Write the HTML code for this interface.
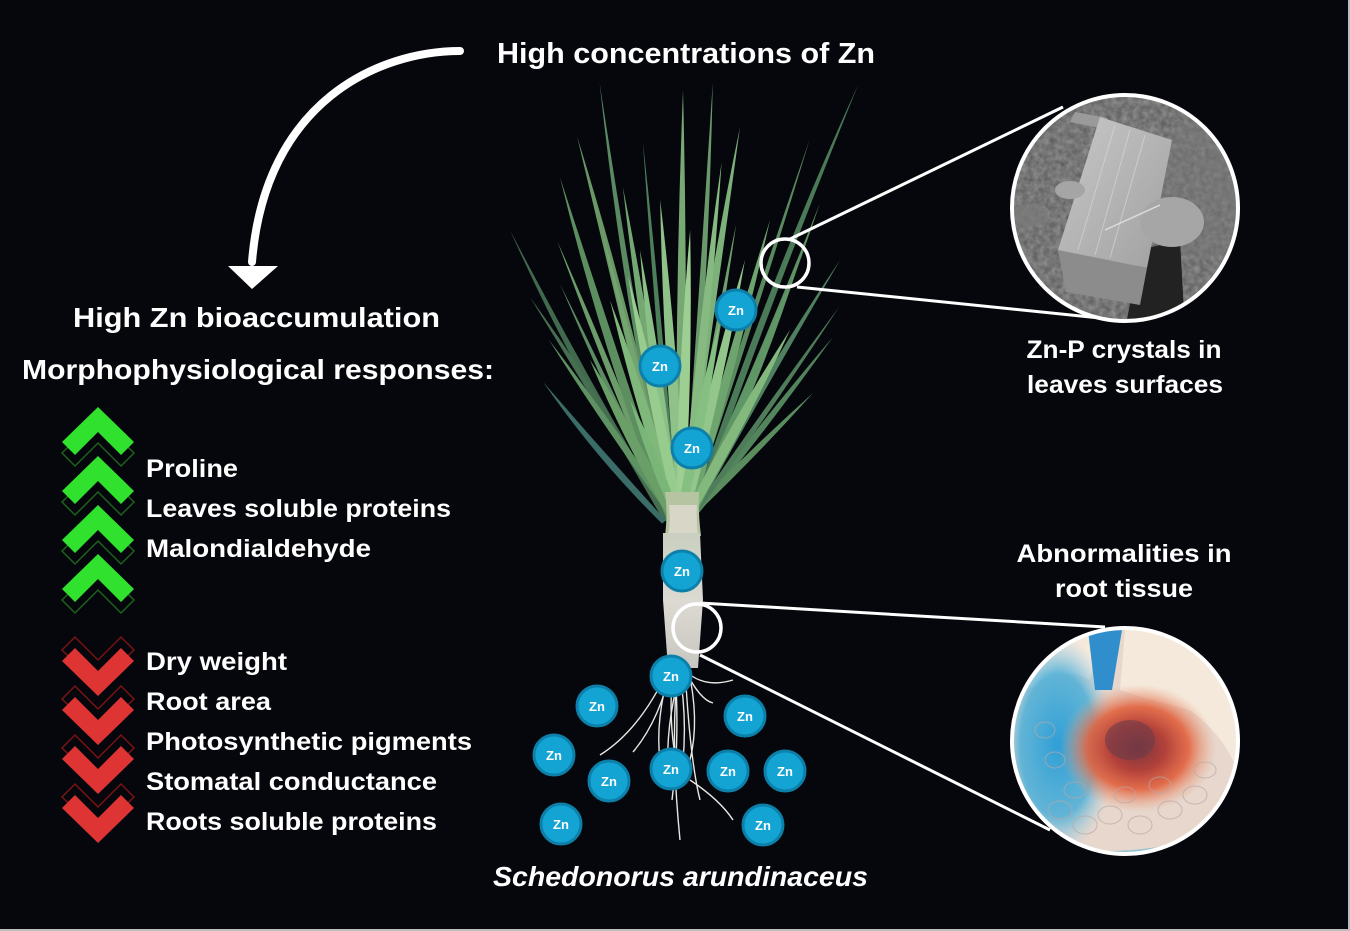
<!DOCTYPE html>
<html><head><meta charset="utf-8">
<style>
html,body{margin:0;padding:0;background:#06070c;}
svg{display:block;}
.t{font-family:"Liberation Sans",Arial,sans-serif;font-weight:bold;fill:#fff;}
.zn{font-family:"Liberation Sans",Arial,sans-serif;font-weight:bold;fill:#fff;font-size:13px;text-anchor:middle;}
</style></head>
<body>
<svg width="1350" height="931" viewBox="0 0 1350 931" xmlns="http://www.w3.org/2000/svg">
<defs>
  <clipPath id="c1"><circle cx="1125" cy="208" r="113"/></clipPath>
  <clipPath id="c2"><circle cx="1125" cy="741" r="113"/></clipPath>
  <filter id="noise" x="0" y="0" width="100%" height="100%">
    <feTurbulence type="fractalNoise" baseFrequency="0.18" numOctaves="2" seed="3"/>
    <feColorMatrix type="matrix" values="0 0 0 0 0.7  0 0 0 0 0.7  0 0 0 0 0.7  0 0 0 0.5 0"/>
  </filter>
  <radialGradient id="blue" cx="0.5" cy="0.5" r="0.5">
    <stop offset="0" stop-color="#2f9fd6" stop-opacity="1"/>
    <stop offset="0.65" stop-color="#4aaed8" stop-opacity="0.85"/>
    <stop offset="1" stop-color="#9fd0e6" stop-opacity="0"/>
  </radialGradient>
  <radialGradient id="red" cx="0.5" cy="0.5" r="0.5">
    <stop offset="0" stop-color="#7a3640"/>
    <stop offset="0.35" stop-color="#b2413a"/>
    <stop offset="0.65" stop-color="#e2623e" stop-opacity="0.9"/>
    <stop offset="1" stop-color="#e9a080" stop-opacity="0"/>
  </radialGradient>
  <linearGradient id="stem" x1="0" y1="0" x2="0" y2="1">
    <stop offset="0" stop-color="#c9cfc0"/>
    <stop offset="0.5" stop-color="#dcdad2"/>
    <stop offset="1" stop-color="#c8c6c0"/>
  </linearGradient>
  <linearGradient id="cry" x1="0" y1="0" x2="1" y2="1">
    <stop offset="0" stop-color="#c8c8c8"/>
    <stop offset="1" stop-color="#a0a0a0"/>
  </linearGradient>
</defs>

<rect width="1350" height="931" fill="#06070c"/>
<rect x="1348" y="0" width="2" height="931" fill="#bdbdbd"/>
<rect x="0" y="929" width="1350" height="2" fill="#bdbdbd"/>

<!-- Curved arrow -->
<path d="M460,51 C380,51 265,100 252,262" fill="none" stroke="#fff" stroke-width="8" stroke-linecap="round"/>
<polygon points="228,266 278,266 252,289" fill="#fff"/>

<!-- Titles -->
<text class="t" x="497" y="63" font-size="29" textLength="378" lengthAdjust="spacingAndGlyphs">High concentrations of Zn</text>
<text class="t" x="73" y="327" font-size="28" textLength="367" lengthAdjust="spacingAndGlyphs">High Zn bioaccumulation</text>
<text class="t" x="22" y="379" font-size="28" textLength="472" lengthAdjust="spacingAndGlyphs">Morphophysiological responses:</text>

<!-- Green chevrons -->
<g>
  <polygon points="98,418 134,453 121,466 98,443 75,466 62,453" fill="none" stroke="#1c621c" stroke-width="1.5"/>
  <polygon points="98,407 134,442 121,455 98,432 75,455 62,442" fill="#30e22e"/>
  <polygon points="98,467 134,502 121,515 98,492 75,515 62,502" fill="none" stroke="#1c621c" stroke-width="1.5"/>
  <polygon points="98,456 134,491 121,504 98,481 75,504 62,491" fill="#30e22e"/>
  <polygon points="98,516 134,551 121,564 98,541 75,564 62,551" fill="none" stroke="#1c621c" stroke-width="1.5"/>
  <polygon points="98,505 134,540 121,553 98,530 75,553 62,540" fill="#30e22e"/>
  <polygon points="98,565 134,600 121,613 98,590 75,613 62,600" fill="none" stroke="#1c621c" stroke-width="1.5"/>
  <polygon points="98,554 134,589 121,602 98,579 75,602 62,589" fill="#30e22e"/>
</g>
<text class="t" x="146" y="477" font-size="25" textLength="92" lengthAdjust="spacingAndGlyphs">Proline</text>
<text class="t" x="146" y="517" font-size="25" textLength="305" lengthAdjust="spacingAndGlyphs">Leaves soluble proteins</text>
<text class="t" x="146" y="557" font-size="25" textLength="225" lengthAdjust="spacingAndGlyphs">Malondialdehyde</text>

<!-- Red chevrons -->
<g>
  <polygon points="98,685 134,650 121,637 98,660 75,637 62,650" fill="none" stroke="#7a1414" stroke-width="1.5"/>
  <polygon points="98,696 134,661 121,648 98,671 75,648 62,661" fill="#de3434"/>
  <polygon points="98,734 134,699 121,686 98,709 75,686 62,699" fill="none" stroke="#7a1414" stroke-width="1.5"/>
  <polygon points="98,745 134,710 121,697 98,720 75,697 62,710" fill="#de3434"/>
  <polygon points="98,783 134,748 121,735 98,758 75,735 62,748" fill="none" stroke="#7a1414" stroke-width="1.5"/>
  <polygon points="98,794 134,759 121,746 98,769 75,746 62,759" fill="#de3434"/>
  <polygon points="98,832 134,797 121,784 98,807 75,784 62,797" fill="none" stroke="#7a1414" stroke-width="1.5"/>
  <polygon points="98,843 134,808 121,795 98,818 75,795 62,808" fill="#de3434"/>
</g>
<text class="t" x="146" y="670" font-size="25" textLength="141" lengthAdjust="spacingAndGlyphs">Dry weight</text>
<text class="t" x="146" y="710" font-size="25" textLength="125" lengthAdjust="spacingAndGlyphs">Root area</text>
<text class="t" x="146" y="750" font-size="25" textLength="326" lengthAdjust="spacingAndGlyphs">Photosynthetic pigments</text>
<text class="t" x="146" y="790" font-size="25" textLength="291" lengthAdjust="spacingAndGlyphs">Stomatal conductance</text>
<text class="t" x="146" y="830" font-size="25" textLength="291" lengthAdjust="spacingAndGlyphs">Roots soluble proteins</text>

<!-- Plant leaves -->
<g>
  <!-- back -->
  <path transform="translate(668,520) rotate(-28.6)" d="M-2.5,0 Q-13,-165 0,-330 Q-3,-165 2.5,0 Z" fill="#41694d"/>
  <path transform="translate(666,520) rotate(-31.4)" d="M-2.5,0 Q1,-130 0,-261 Q11,-130 2.5,0 Z" fill="#456f50"/>
  <path transform="translate(664,522) rotate(-40.8)" d="M-2.5,0 Q-10,-92 0,-185 Q0,-92 2.5,0 Z" fill="#3a6d68"/>
  <path transform="translate(692,520) rotate(20.9)" d="M-2.5,0 Q-15,-233 0,-466 Q-5,-233 2.5,0 Z" fill="#4a7a58"/>
  <path transform="translate(690,520) rotate(38)" d="M-2.5,0 Q-5,-116 0,-232 Q5,-116 2.5,0 Z" fill="#52855c"/>
  <path transform="translate(688,520) rotate(22.6)" d="M-2.5,0 Q3,-171 0,-343 Q13,-171 2.5,0 Z" fill="#5f9063"/>
  <path transform="translate(672,520) rotate(-9.4)" d="M-2.5,0 Q-13,-221 0,-443 Q-3,-221 2.5,0 Z" fill="#5a8a62"/>
  <path transform="translate(686,520) rotate(3.5)" d="M-2.5,0 Q-1,-219 0,-438 Q9,-219 2.5,0 Z" fill="#6a9a6c"/>
  <path transform="translate(670,520) rotate(-22)" d="M-2.5,0 Q-5,-150 0,-300 Q5,-150 2.5,0 Z" fill="#6b9c6a"/>
  <path transform="translate(690,520) rotate(30)" d="M-2.5,0 Q-11,-150 0,-300 Q-1,-150 2.5,0 Z" fill="#4f8060"/>
  <path transform="translate(675,520) rotate(-35)" d="M-2.5,0 Q-5,-110 0,-220 Q5,-110 2.5,0 Z" fill="#5e9263"/>
  <path transform="translate(686,520) rotate(45)" d="M-2.5,0 Q-5,-90 0,-180 Q5,-90 2.5,0 Z" fill="#5a8c5e"/>
  <path transform="translate(676,520) rotate(-5)" d="M-2,0 Q-4,-190 0,-380 Q4,-190 2,0 Z" fill="#4d7f5a"/>
  <path transform="translate(686,520) rotate(18)" d="M-2,0 Q-4,-200 0,-400 Q4,-200 2,0 Z" fill="#5a8a60"/>
  <path transform="translate(670,520) rotate(-25)" d="M-2,0 Q-4,-130 0,-260 Q4,-130 2,0 Z" fill="#5b8c63"/>
  <path transform="translate(690,520) rotate(35)" d="M-2,0 Q-4,-130 0,-260 Q4,-130 2,0 Z" fill="#4f7d5a"/>
  <!-- mid -->
  <path transform="translate(670,520) rotate(-17.8)" d="M-3,0 Q-13,-180 0,-360 Q1,-180 3,0 Z" fill="#5c8e60"/>
  <path transform="translate(672,520) rotate(-13.9)" d="M-3,0 Q-2,-197 0,-395 Q12,-197 3,0 Z" fill="#6a9766"/>
  <path transform="translate(682,520) rotate(8.4)" d="M-3,0 Q-12,-198 0,-397 Q2,-198 3,0 Z" fill="#7db17a"/>
  <path transform="translate(680,520) rotate(0.4)" d="M-3,0 Q-7,-215 0,-430 Q7,-215 3,0 Z" fill="#78a874"/>
  <path transform="translate(675,520) rotate(-8.9)" d="M-3,0 Q-7,-168 0,-337 Q7,-168 3,0 Z" fill="#74a872"/>
  <path transform="translate(690,520) rotate(22.9)" d="M-3,0 Q-1,-141 0,-282 Q13,-141 3,0 Z" fill="#5f9666"/>
  <path transform="translate(688,520) rotate(15.3)" d="M-3,0 Q-7,-155 0,-311 Q7,-155 3,0 Z" fill="#6ea46e"/>
  <path transform="translate(684,520) rotate(6)" d="M-3,0 Q-7,-180 0,-360 Q7,-180 3,0 Z" fill="#86ba80"/>
  <path transform="translate(684,520) rotate(10)" d="M-2,0 Q-5,-150 0,-300 Q5,-150 2,0 Z" fill="#6f9f6f"/>
  <path transform="translate(674,520) rotate(-14)" d="M-2,0 Q-5,-150 0,-300 Q5,-150 2,0 Z" fill="#74a570"/>
  <!-- front -->
  <path transform="translate(674,520) rotate(-27.7)" d="M-3.5,0 Q-8,-90 0,-181 Q8,-90 3.5,0 Z" fill="#6aa067"/>
  <path transform="translate(678,520) rotate(-17.2)" d="M-3.5,0 Q-8,-115 0,-230 Q8,-115 3.5,0 Z" fill="#80b77a"/>
  <path transform="translate(686,520) rotate(28.7)" d="M-3.5,0 Q-8,-108 0,-217 Q8,-108 3.5,0 Z" fill="#84b97e"/>
  <path transform="translate(676,520) rotate(-7.6)" d="M-3.5,0 Q-8,-136 0,-272 Q8,-136 3.5,0 Z" fill="#8abf85"/>
  <path transform="translate(684,520) rotate(13.2)" d="M-3.5,0 Q-8,-133 0,-267 Q8,-133 3.5,0 Z" fill="#92c68b"/>
  <path transform="translate(682,520) rotate(-3.9)" d="M-3.5,0 Q-8,-160 0,-321 Q8,-160 3.5,0 Z" fill="#8ec288"/>
  <path transform="translate(680,520) rotate(-12)" d="M-3.5,0 Q-8,-125 0,-250 Q8,-125 3.5,0 Z" fill="#98cc8f"/>
  <path transform="translate(680,520) rotate(2)" d="M-3.5,0 Q-8,-145 0,-290 Q8,-145 3.5,0 Z" fill="#9dcf93"/>
  <path transform="translate(680,520) rotate(11.3)" d="M-3.5,0 Q-8,-102 0,-204 Q8,-102 3.5,0 Z" fill="#86bf82"/>
  <path transform="translate(678,520) rotate(-21.8)" d="M-3,0 Q-7,-64 0,-129 Q7,-64 3,0 Z" fill="#7ab678"/>
</g>
<!-- sheath / base -->
<path d="M665,492 Q668,512 665,536 L701,536 Q698,512 699,492 Z" fill="#b6c4a2"/>
<path d="M669,505 Q671,520 668,536 L698,536 Q696,520 697,505 Z" fill="#d8d6c6"/>

<!-- stem / root -->
<path d="M663,533 L700,533 L703,600 L698,668 L668,668 L663,600 Z" fill="url(#stem)"/>
<g fill="none" stroke="#e6e6e2" stroke-width="1.4">
  <path d="M672,665 Q660,720 633,752"/>
  <path d="M680,665 Q700,690 733,680"/>
  <path d="M685,670 Q700,700 713,703"/>
  <path d="M678,668 Q670,740 680,840"/>
  <path d="M685,668 Q690,760 700,800"/>
  <path d="M690,780 Q720,800 733,820"/>
  <path d="M670,668 Q655,720 660,760"/>
  <path d="M675,668 Q680,740 672,800"/>
  <path d="M668,670 Q640,730 600,755"/>
  <path d="M682,668 Q665,720 668,780"/>
  <path d="M688,668 Q700,720 690,760"/>
  <path d="M673,668 Q668,720 676,760"/>
  <path d="M679,668 Q688,720 682,770"/>
</g>

<!-- Magnifier: leaves -->
<line x1="788" y1="240" x2="1063" y2="107" stroke="#fff" stroke-width="3"/>
<line x1="797" y1="287" x2="1100" y2="318" stroke="#fff" stroke-width="3"/>
<circle cx="785" cy="263" r="24" fill="none" stroke="#fff" stroke-width="3.5"/>

<g clip-path="url(#c1)">
  <rect x="1010" y="93" width="230" height="230" fill="#555"/>
  <rect x="1010" y="93" width="230" height="230" filter="url(#noise)"/>
  <ellipse cx="1200" cy="190" rx="45" ry="70" fill="#777" opacity="0.5"/>
  <polygon points="1075,112 1108,118 1100,128 1070,122" fill="#9a9a9a"/>
  <polygon points="1140,250 1180,240 1185,330 1125,330" fill="#222"/>
  <polygon points="1058,250 1147,268 1140,305 1066,292" fill="#8c8c8c"/>
  <polygon points="1100,117 1172,140 1147,268 1058,250" fill="url(#cry)"/>
  <g stroke="#dcdcdc" stroke-width="1" opacity="0.6">
    <line x1="1115" y1="125" x2="1078" y2="250"/>
    <line x1="1130" y1="130" x2="1095" y2="255"/>
    <line x1="1145" y1="135" x2="1110" y2="258"/>
  </g>
  <ellipse cx="1172" cy="222" rx="32" ry="25" fill="#a6a6a6"/>
  <ellipse cx="1070" cy="190" rx="15" ry="9" fill="#a5a5a5"/>
  <ellipse cx="1030" cy="215" rx="18" ry="12" fill="#7a7a7a" opacity="0.7"/>
  <line x1="1105" y1="230" x2="1160" y2="205" stroke="#ddd" stroke-width="1.5"/>
</g>
<circle cx="1125" cy="208" r="113" fill="none" stroke="#fff" stroke-width="4"/>

<text class="t" x="1124" y="358" font-size="25" text-anchor="middle" textLength="195" lengthAdjust="spacingAndGlyphs">Zn-P crystals in</text>
<text class="t" x="1125" y="393" font-size="25" text-anchor="middle" textLength="196" lengthAdjust="spacingAndGlyphs">leaves surfaces</text>
<text class="t" x="1124" y="562" font-size="25" text-anchor="middle" textLength="215" lengthAdjust="spacingAndGlyphs">Abnormalities in</text>
<text class="t" x="1124" y="597" font-size="25" text-anchor="middle" textLength="138" lengthAdjust="spacingAndGlyphs">root tissue</text>

<!-- Magnifier: root -->
<line x1="700" y1="603" x2="1105" y2="627" stroke="#fff" stroke-width="3"/>
<line x1="700" y1="655" x2="1050" y2="830" stroke="#fff" stroke-width="3"/>
<circle cx="697" cy="628" r="24" fill="none" stroke="#fff" stroke-width="3.5"/>

<g clip-path="url(#c2)">
  <rect x="1010" y="626" width="230" height="232" fill="#f5e9dc"/>
  <path d="M1015,700 Q1060,660 1090,680 L1100,630 L1125,630 L1120,690 Q1150,700 1190,710 Q1230,740 1240,780 L1240,860 L1010,860 Z" fill="#e7d7cc"/>
  <ellipse cx="1058" cy="745" rx="58" ry="110" fill="url(#blue)"/>
  <path d="M1088,630 L1122,630 L1112,690 L1095,690 Z" fill="#2f8ecb"/>
  <ellipse cx="1138" cy="748" rx="78" ry="64" fill="url(#red)"/>
  <ellipse cx="1130" cy="740" rx="25" ry="20" fill="#6e3a48" opacity="0.6"/>
  <g fill="none" stroke="#b8a8a8" stroke-width="1" opacity="0.7">
    <ellipse cx="1060" cy="810" rx="12" ry="9"/>
    <ellipse cx="1085" cy="825" rx="12" ry="9"/>
    <ellipse cx="1110" cy="815" rx="12" ry="9"/>
    <ellipse cx="1140" cy="825" rx="12" ry="9"/>
    <ellipse cx="1170" cy="810" rx="12" ry="9"/>
    <ellipse cx="1195" cy="795" rx="12" ry="9"/>
    <ellipse cx="1075" cy="790" rx="11" ry="8"/>
    <ellipse cx="1125" cy="795" rx="11" ry="8"/>
    <ellipse cx="1160" cy="785" rx="11" ry="8"/>
    <ellipse cx="1055" cy="760" rx="10" ry="8"/>
    <ellipse cx="1045" cy="730" rx="10" ry="8"/>
    <ellipse cx="1205" cy="770" rx="11" ry="8"/>
  </g>
  <path d="M1040,845 Q1100,860 1180,845" fill="none" stroke="#5ab0d8" stroke-width="3" opacity="0.6"/>
</g>
<circle cx="1125" cy="741" r="113" fill="none" stroke="#fff" stroke-width="4"/>

<!-- Zn circles -->
<g>
  <g fill="#13a4d4" stroke="#0d80aa" stroke-width="3">
    <circle cx="736" cy="310" r="20"/>
    <circle cx="660" cy="366" r="20"/>
    <circle cx="692" cy="448" r="20"/>
    <circle cx="682" cy="571" r="20"/>
    <circle cx="671" cy="676" r="20"/>
    <circle cx="597" cy="706" r="20"/>
    <circle cx="745" cy="716" r="20"/>
    <circle cx="554" cy="755" r="20"/>
    <circle cx="609" cy="781" r="20"/>
    <circle cx="671" cy="769" r="20"/>
    <circle cx="728" cy="771" r="20"/>
    <circle cx="785" cy="771" r="20"/>
    <circle cx="561" cy="824" r="20"/>
    <circle cx="763" cy="825" r="20"/>
  </g>
  <text class="zn" x="736" y="315">Zn</text>
  <text class="zn" x="660" y="371">Zn</text>
  <text class="zn" x="692" y="453">Zn</text>
  <text class="zn" x="682" y="576">Zn</text>
  <text class="zn" x="671" y="681">Zn</text>
  <text class="zn" x="597" y="711">Zn</text>
  <text class="zn" x="745" y="721">Zn</text>
  <text class="zn" x="554" y="760">Zn</text>
  <text class="zn" x="609" y="786">Zn</text>
  <text class="zn" x="671" y="774">Zn</text>
  <text class="zn" x="728" y="776">Zn</text>
  <text class="zn" x="785" y="776">Zn</text>
  <text class="zn" x="561" y="829">Zn</text>
  <text class="zn" x="763" y="830">Zn</text>
</g>

<text class="t" x="493" y="886" font-size="28" font-style="italic" textLength="375" lengthAdjust="spacingAndGlyphs">Schedonorus arundinaceus</text>
</svg>
</body></html>
